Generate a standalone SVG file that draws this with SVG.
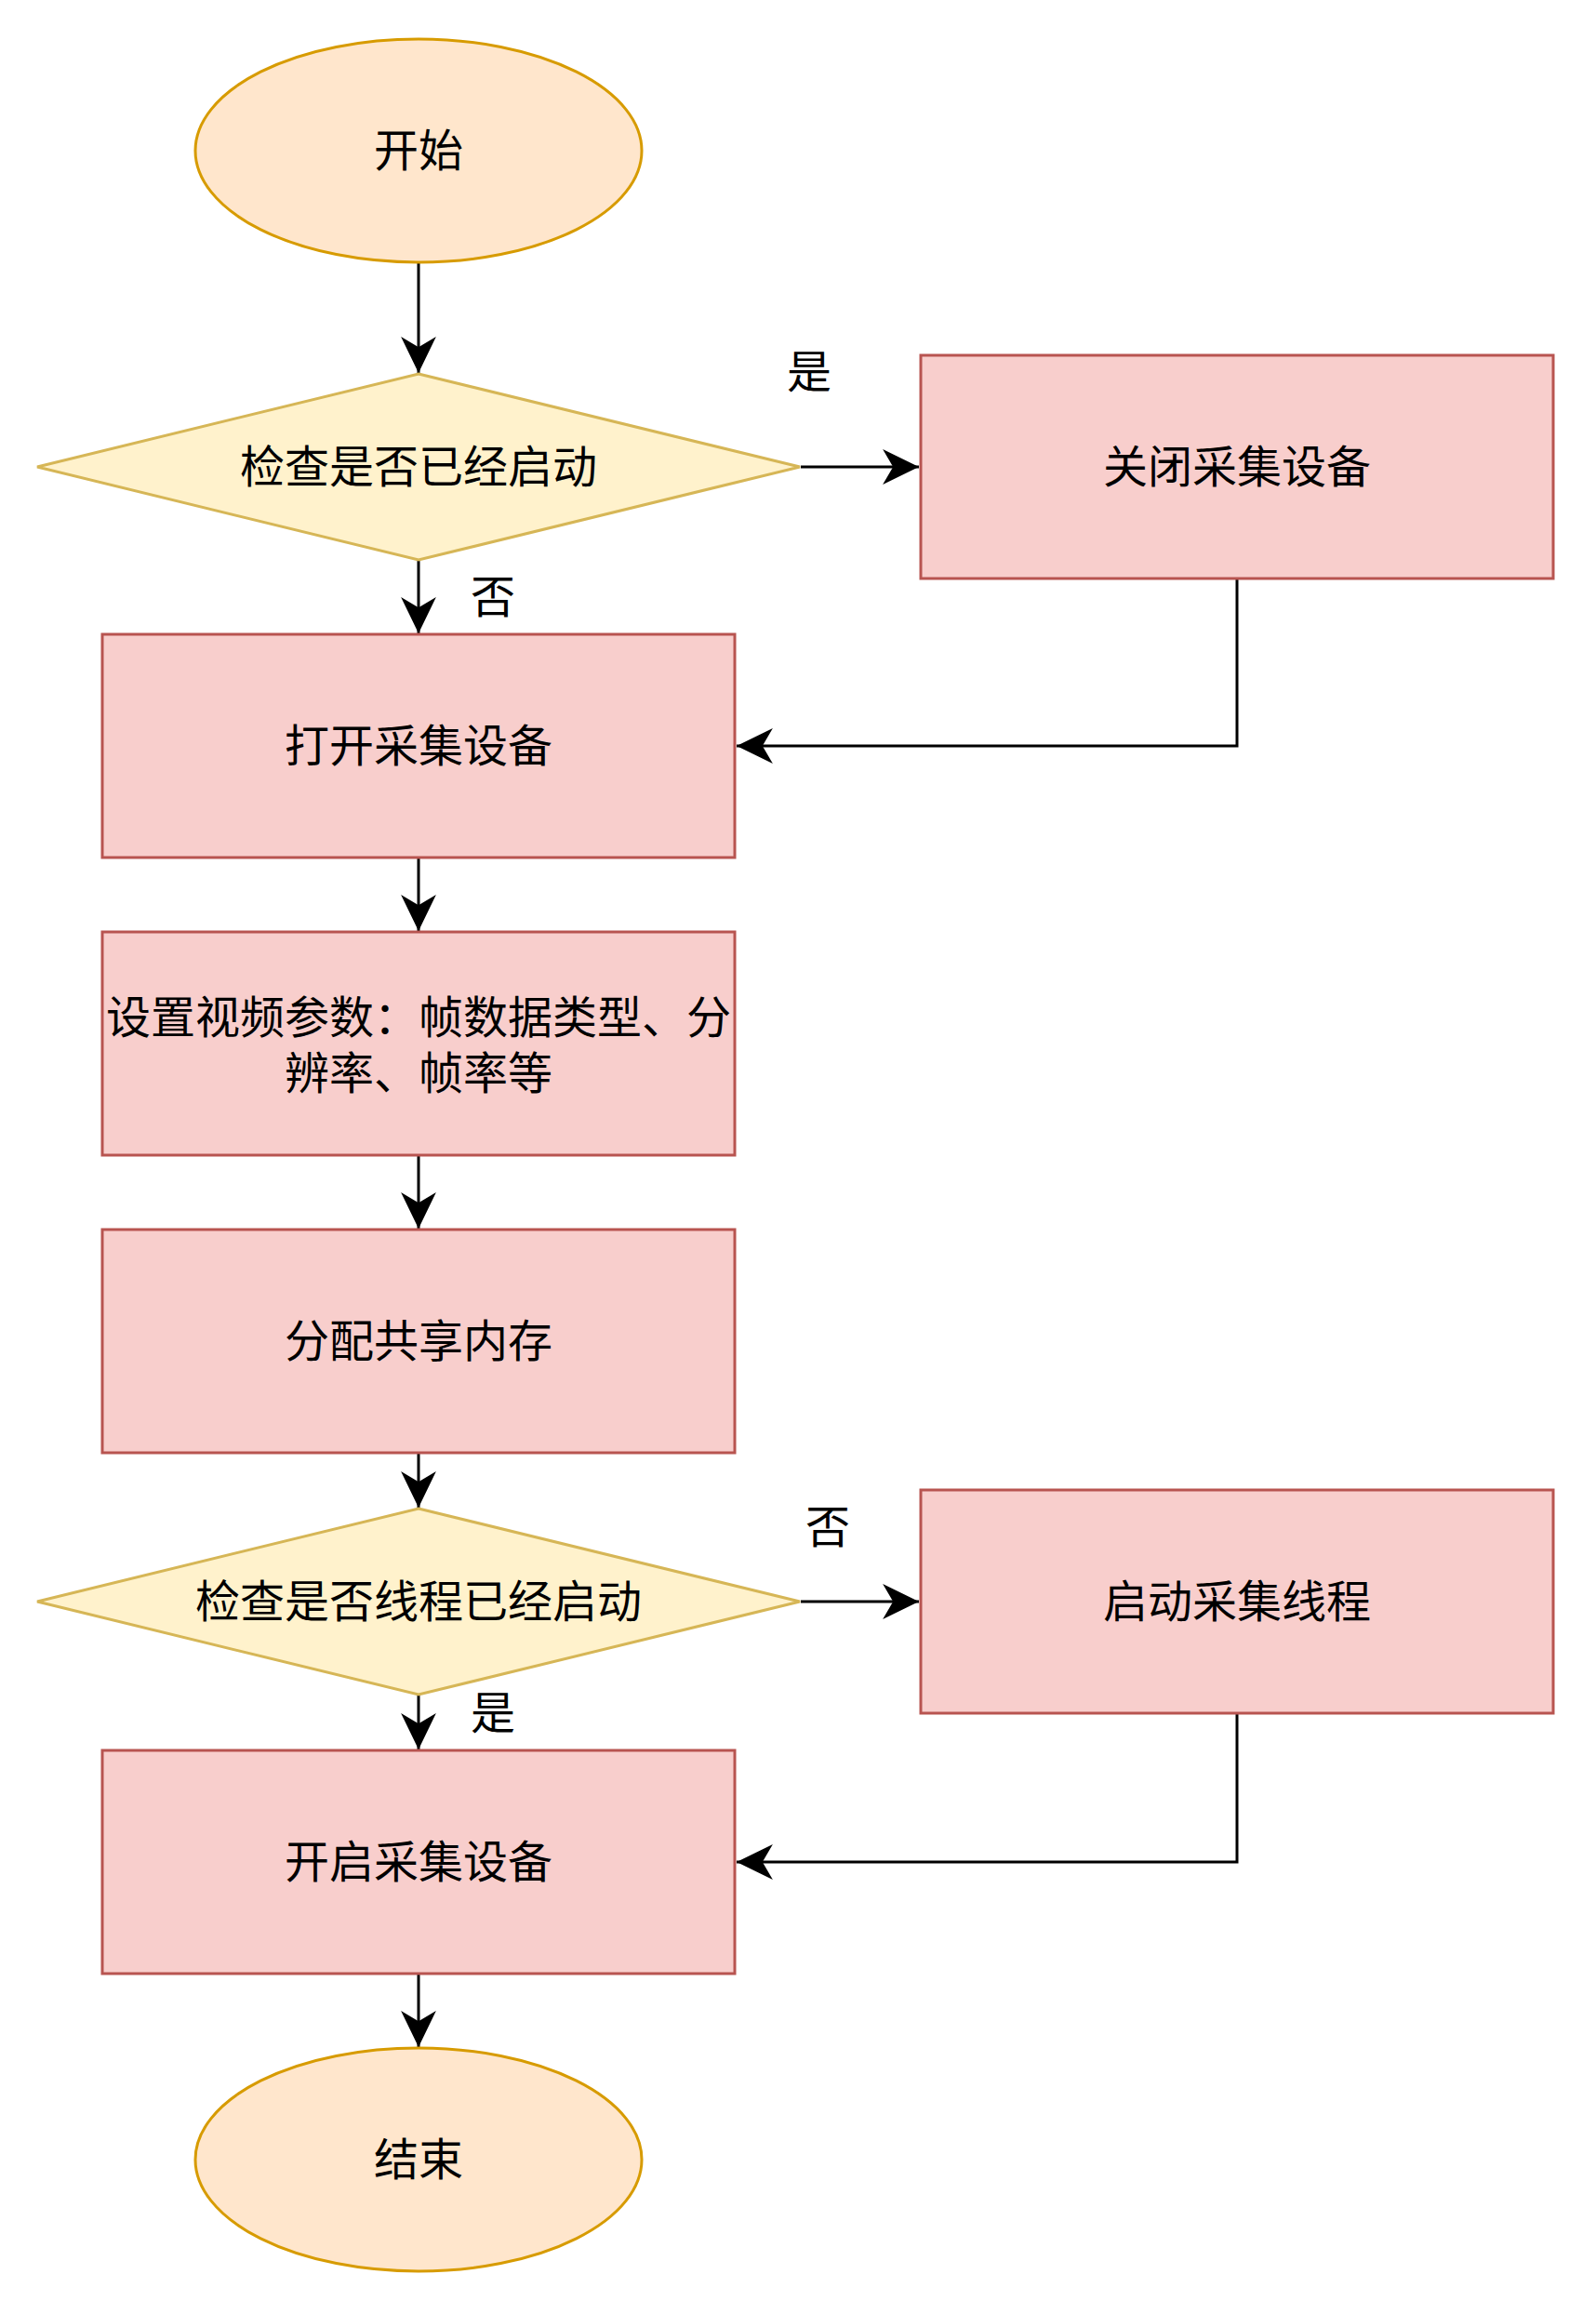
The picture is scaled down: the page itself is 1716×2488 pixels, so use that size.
<svg xmlns="http://www.w3.org/2000/svg" width="1716" height="2488" viewBox="0 0 1716 2488">
<style>
.box{fill:#f8cecc;stroke:#b85450;stroke-width:3}
.dec{fill:#fff2cc;stroke:#d6b656;stroke-width:3}
.term{fill:#ffe6cc;stroke:#d79b00;stroke-width:3}
.edge{fill:none;stroke:#000;stroke-width:3}
text{font-family:"Noto Sans CJK SC","Noto Sans",sans-serif;font-size:48px;fill:#000;text-anchor:middle;dominant-baseline:central}
</style>
<defs>
<marker id="arr" markerUnits="userSpaceOnUse" markerWidth="40" markerHeight="40" viewBox="0 0 36 36" refX="35" refY="18" orient="auto">
<path d="M0,1 L35,18 L0,35 L10,18 Z" fill="#000"/>
</marker>
</defs>
<rect width="1716" height="2488" fill="#fff"/>
<g id="connectors">
<path class="edge" d="M450,283 V401" marker-end="url(#arr)"/>
<path class="edge" d="M861,502 H988" marker-end="url(#arr)"/>
<path class="edge" d="M450,602 V681" marker-end="url(#arr)"/>
<path class="edge" d="M1330,622 V802 H792" marker-end="url(#arr)"/>
<path class="edge" d="M450,922 V1001" marker-end="url(#arr)"/>
<path class="edge" d="M450,1242 V1321" marker-end="url(#arr)"/>
<path class="edge" d="M450,1562 V1621" marker-end="url(#arr)"/>
<path class="edge" d="M861,1722 H988" marker-end="url(#arr)"/>
<path class="edge" d="M450,1822 V1881" marker-end="url(#arr)"/>
<path class="edge" d="M1330,1842 V2002 H792" marker-end="url(#arr)"/>
<path class="edge" d="M450,2122 V2201" marker-end="url(#arr)"/>
<text x="870" y="396">是</text>
<text x="530" y="638">否</text>
<text x="890" y="1638">否</text>
<text x="530" y="1838">是</text>
</g>
<g id="start"><ellipse class="term" cx="450" cy="162" rx="240" ry="120"/><text x="450" y="158">开始</text></g>
<g id="check1"><polygon class="dec" points="450,402 860,502 450,602 40,502"/><text x="450" y="498">检查是否已经启动</text></g>
<g id="close"><rect class="box" x="990" y="382" width="680" height="240"/><text x="1330" y="498">关闭采集设备</text></g>
<g id="open"><rect class="box" x="110" y="682" width="680" height="240"/><text x="450" y="798">打开采集设备</text></g>
<g id="setparams"><rect class="box" x="110" y="1002" width="680" height="240"/><text x="450" y="1090"><tspan x="450" y="1090">设置视频参数：帧数据类型、分</tspan><tspan x="450" y="1150">辨率、帧率等</tspan></text></g>
<g id="alloc"><rect class="box" x="110" y="1322" width="680" height="240"/><text x="450" y="1438">分配共享内存</text></g>
<g id="check2"><polygon class="dec" points="450,1622 860,1722 450,1822 40,1722"/><text x="450" y="1718">检查是否线程已经启动</text></g>
<g id="startthread"><rect class="box" x="990" y="1602" width="680" height="240"/><text x="1330" y="1718">启动采集线程</text></g>
<g id="enable"><rect class="box" x="110" y="1882" width="680" height="240"/><text x="450" y="1998">开启采集设备</text></g>
<g id="end"><ellipse class="term" cx="450" cy="2322" rx="240" ry="120"/><text x="450" y="2318">结束</text></g>
</svg>
